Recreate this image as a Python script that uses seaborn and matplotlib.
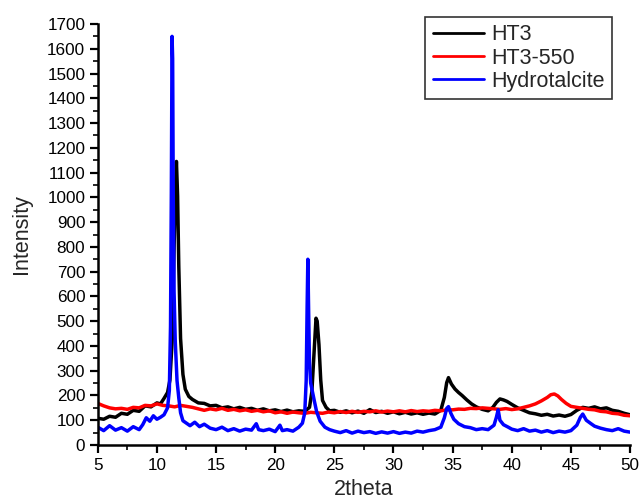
import numpy as np
import pandas as pd
import matplotlib
matplotlib.use("Agg")
import matplotlib.pyplot as plt
from matplotlib.ticker import MultipleLocator
import seaborn as sns

# ---- XRD patterns (2theta in degrees, intensity in counts) ----
ht3_2theta = [5, 5.5, 6, 6.5, 7, 7.5, 8, 8.5, 9, 9.5, 10, 10.3, 10.6, 10.9, 11.1,
              11.3, 11.45, 11.55, 11.65, 11.75, 11.85, 12.0, 12.2, 12.4, 12.7, 13,
              13.5, 14, 14.5, 15, 15.5, 16, 16.5, 17, 17.5, 18, 18.5, 19, 19.5, 20,
              20.5, 21, 21.5, 22, 22.5, 22.9, 23.1, 23.3, 23.45, 23.55, 23.7, 23.85,
              24.0, 24.3, 24.6, 25, 25.5, 26, 26.5, 27, 27.5, 28, 28.5, 29, 29.5,
              30, 30.5, 31, 31.5, 32, 32.5, 33, 33.5, 34, 34.3, 34.5, 34.65, 34.9,
              35.2, 35.5, 35.8, 36.2, 36.6, 37, 37.5, 38, 38.4, 38.7, 39, 39.3,
              39.6, 40, 40.5, 41, 41.5, 42, 42.5, 43, 43.5, 44, 44.5, 45, 45.5,
              46, 46.5, 47, 47.5, 48, 48.5, 49, 49.5, 50]
ht3_intensity = [108, 104, 116, 112, 128, 124, 140, 136, 158, 154, 170, 166, 188,
                 212, 262, 430, 790, 1010, 1145, 1005, 720, 430, 285, 225, 196,
                 184, 170, 168, 158, 160, 150, 154, 146, 152, 144, 148, 140, 146,
                 138, 142, 135, 141, 134, 138, 136, 152, 215, 385, 512, 500, 405,
                 262, 180, 152, 138, 140, 132, 138, 130, 137, 128, 143, 131, 136,
                 128, 134, 126, 132, 125, 130, 124, 129, 125, 140, 192, 252, 272,
                 246, 226, 212, 200, 182, 166, 154, 144, 138, 152, 172, 186, 182,
                 176, 164, 150, 140, 130, 126, 120, 124, 117, 121, 116, 123, 140,
                 152, 148, 154, 146, 150, 140, 136, 128, 122]

ht3_550_2theta = [5, 5.5, 6, 6.5, 7, 7.5, 8, 8.5, 9, 9.5, 10, 10.5, 11, 11.5, 12,
                  12.5, 13, 13.5, 14, 14.5, 15, 15.5, 16, 16.5, 17, 17.5, 18, 18.5,
                  19, 19.5, 20, 20.5, 21, 21.5, 22, 22.5, 23, 23.5, 24, 24.5, 25,
                  25.5, 26, 26.5, 27, 27.5, 28, 28.5, 29, 29.5, 30, 30.5, 31, 31.5,
                  32, 32.5, 33, 33.5, 34, 34.5, 35, 35.5, 36, 36.5, 37, 37.5, 38,
                  38.5, 39, 39.5, 40, 40.5, 41, 41.5, 42, 42.5, 43, 43.3, 43.6,
                  43.9, 44.2, 44.6, 45, 45.5, 46, 46.5, 47, 47.5, 48, 48.5, 49,
                  49.5, 50]
ht3_550_intensity = [168, 158, 150, 146, 148, 144, 152, 150, 160, 158, 166, 160,
                     158, 154, 160, 156, 152, 146, 140, 146, 142, 148, 140, 144,
                     138, 142, 136, 140, 134, 138, 130, 134, 128, 133, 130, 128,
                     132, 130, 128, 133, 130, 135, 131, 136, 132, 136, 134, 138,
                     133, 137, 134, 138, 134, 139, 135, 138, 136, 140, 138, 142,
                     142, 145, 144, 148, 147, 150, 148, 146, 144, 147, 143, 146,
                     152, 158, 166, 178, 192, 203, 206, 198, 184, 168, 156,
                     152, 148, 144, 142, 136, 134, 128, 126, 120, 118]

hydrotalcite_2theta = [5, 5.5, 6, 6.5, 7, 7.5, 8, 8.5, 8.8, 9.1, 9.4, 9.7, 10,
                       10.3, 10.6, 10.9, 11.05, 11.15, 11.22, 11.28, 11.33, 11.38,
                       11.45, 11.55, 11.7, 11.85, 12.0, 12.2, 12.5, 12.8, 13.2,
                       13.6, 14, 14.5, 15, 15.5, 16, 16.5, 17, 17.5, 18, 18.4,
                       18.6, 19, 19.5, 20, 20.4, 20.6, 21, 21.5, 22, 22.3, 22.5,
                       22.62, 22.7, 22.76, 22.82, 22.9, 23.0, 23.15, 23.3, 23.5,
                       23.8, 24.2, 24.6, 25, 25.5, 26, 26.5, 27, 27.5, 28, 28.5,
                       29, 29.5, 30, 30.5, 31, 31.5, 32, 32.5, 33, 33.5, 34, 34.3,
                       34.5, 34.65, 34.85, 35.1, 35.5, 36, 36.5, 37, 37.5, 38,
                       38.5, 38.7, 38.85, 39.0, 39.3, 39.7, 40, 40.5, 41, 41.5,
                       42, 42.5, 43, 43.5, 44, 44.5, 45, 45.5, 45.8, 46.0, 46.3,
                       46.7, 47, 47.5, 48, 48.5, 49, 49.5, 50]
hydrotalcite_intensity = [72, 58, 78, 60, 70, 56, 74, 62, 82, 110, 96, 118, 104,
                          112, 122, 150, 220, 480, 1020, 1650, 1560, 1020, 620,
                          420, 260, 190, 130, 98, 88, 78, 92, 74, 84, 68, 62, 72,
                          58, 66, 56, 64, 60, 86, 62, 58, 64, 54, 80, 58, 62, 56,
                          72, 88, 130, 260, 560, 750, 560, 330, 250, 215, 180, 135,
                          96, 72, 62, 56, 50, 58, 48, 56, 50, 54, 47, 53, 48, 54,
                          47, 52, 48, 56, 52, 58, 62, 72, 110, 148, 155, 128, 104,
                          86, 74, 70, 62, 66, 62, 80, 112, 142, 100, 82, 72, 64,
                          58, 66, 56, 60, 52, 58, 50, 56, 52, 58, 80, 112, 125, 100,
                          86, 76, 68, 62, 58, 66, 56, 52]

series_labels = ["HT3", "HT3-550", "Hydrotalcite"]
series_colors = ["#000000", "#ff0000", "#0000ff"]

df = pd.concat([
    pd.DataFrame({"2theta": ht3_2theta, "Intensity": ht3_intensity, "sample": "HT3"}),
    pd.DataFrame({"2theta": ht3_550_2theta, "Intensity": ht3_550_intensity, "sample": "HT3-550"}),
    pd.DataFrame({"2theta": hydrotalcite_2theta, "Intensity": hydrotalcite_intensity, "sample": "Hydrotalcite"}),
], ignore_index=True)

sns.set_style("ticks")
plt.rcParams["font.family"] = ["Liberation Sans", "DejaVu Sans"]

fig = plt.figure(figsize=(6.39, 5.0), dpi=100)
ax = fig.add_axes([0.153, 0.11, 0.833, 0.842])

sns.lineplot(data=df, x="2theta", y="Intensity", hue="sample",
             hue_order=series_labels, palette=series_colors,
             linewidth=2.5, sort=False, estimator=None, ax=ax)

ax.set_xlim(5, 50)
ax.set_ylim(0, 1700)
ax.xaxis.set_major_locator(MultipleLocator(5))
ax.xaxis.set_minor_locator(MultipleLocator(2.5))
ax.yaxis.set_major_locator(MultipleLocator(100))
ax.yaxis.set_minor_locator(MultipleLocator(50))
ax.tick_params(which="major", direction="out", length=6, width=1.6,
               labelsize=12.3, colors="black", pad=3)
ax.tick_params(which="minor", direction="out", length=3.5, width=1.4)

for side in ("top", "right"):
    ax.spines[side].set_visible(False)
for side in ("left", "bottom"):
    ax.spines[side].set_linewidth(1.8)
    ax.spines[side].set_color("black")

ax.set_xlabel("2theta", fontsize=15.5, labelpad=5)
ax.set_ylabel("Intensity", fontsize=15.5, labelpad=11)

handles, labels = ax.get_legend_handles_labels()
leg = ax.legend(handles, labels, loc="upper right", bbox_to_anchor=(0.966, 1.017),
                fontsize=15.5, frameon=True, fancybox=False, edgecolor="#333333",
                framealpha=1, handlelength=2.4, handletextpad=0.3,
                labelspacing=0.1, borderpad=0.35, borderaxespad=0)
leg.get_frame().set_linewidth(1.2)
for line in leg.get_lines():
    line.set_linewidth(2)

fig.savefig("out.png", dpi=100)
